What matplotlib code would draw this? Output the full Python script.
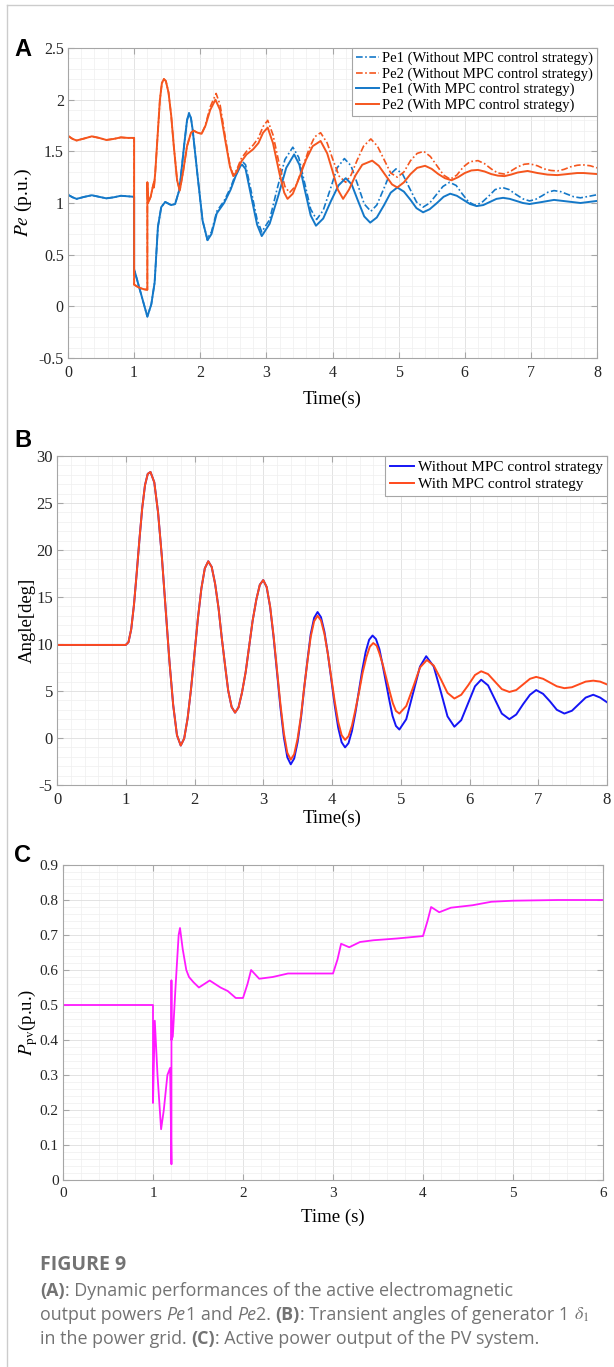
import matplotlib
matplotlib.use("Agg")
import matplotlib.pyplot as plt
from matplotlib.ticker import MultipleLocator, FormatStrFormatter
from matplotlib.lines import Line2D
from matplotlib.text import Annotation

plt.rcParams['font.family'] = ['Liberation Serif', 'DejaVu Serif']
plt.rcParams['mathtext.fontset'] = 'stix'
plt.rcParams['axes.unicode_minus'] = False

# ---------------- panel A : Pe1 / Pe2 ----------------
# common part (before the two runs split)
pe1_t = [0, 0.07, 0.13, 0.25, 0.36, 0.47, 0.58, 0.69, 0.8, 0.9, 1.0, 1.0, 1.2, 1.26, 1.31, 1.36, 1.41,
         1.47, 1.56, 1.62, 1.685, 1.76, 1.8, 1.83, 1.86, 1.885, 1.96, 2.035, 2.11]
pe1_v = [1.08, 1.055, 1.04, 1.06, 1.075, 1.06, 1.045, 1.055, 1.07, 1.065, 1.06, 0.36, -0.1, 0.02, 0.23,
         0.77, 0.96, 1.01, 0.98, 0.99, 1.13, 1.58, 1.8, 1.87, 1.82, 1.71, 1.26, 0.83, 0.64]

pe1_mpc_t = [2.11, 2.17, 2.25, 2.36, 2.46, 2.535, 2.61, 2.635, 2.685, 2.785, 2.86, 2.93,
             3.05, 3.18, 3.3, 3.42, 3.5, 3.58, 3.67, 3.75, 3.86, 3.97, 4.09, 4.2,
             4.29, 4.38, 4.48, 4.57, 4.67, 4.78, 4.88, 4.98, 5.08, 5.18, 5.27, 5.37,
             5.47, 5.58, 5.68, 5.78, 5.88, 5.98, 6.08, 6.18, 6.28, 6.38, 6.48, 6.58,
             6.68, 6.78, 6.88, 6.98, 7.17, 7.35, 7.55, 7.75, 8.0]
pe1_mpc_v = [0.64, 0.70, 0.90, 1.0, 1.13, 1.26, 1.36, 1.37, 1.33, 1.02, 0.79, 0.68,
             0.80, 1.07, 1.34, 1.47, 1.37, 1.13, 0.88, 0.78, 0.85, 1.01, 1.17, 1.24,
             1.18, 1.03, 0.87, 0.81, 0.86, 0.98, 1.10, 1.15, 1.11, 1.03, 0.95, 0.91,
             0.94, 1.00, 1.06, 1.09, 1.07, 1.03, 0.99, 0.97, 0.98, 1.01, 1.04, 1.05,
             1.04, 1.02, 1.00, 0.99, 1.01, 1.03, 1.015, 1.0, 1.02]

pe1_nompc_t = [2.11, 2.17, 2.25, 2.36, 2.46, 2.535, 2.61, 2.64, 2.685, 2.785, 2.86, 2.93,
               3.05, 3.16, 3.28, 3.4, 3.49, 3.58, 3.67, 3.76, 3.86, 3.97, 4.07, 4.18,
               4.28, 4.38, 4.48, 4.58, 4.67, 4.77, 4.86, 4.96, 5.06, 5.16, 5.27, 5.37,
               5.47, 5.57, 5.67, 5.77, 5.87, 5.96, 6.06, 6.15, 6.25, 6.36, 6.46, 6.57,
               6.67, 6.77, 6.88, 6.98, 7.07, 7.17, 7.26, 7.35, 7.45, 7.55, 7.65, 7.75,
               7.88, 8.0]
pe1_nompc_v = [0.66, 0.72, 0.92, 1.02, 1.15, 1.28, 1.39, 1.40, 1.37, 1.07, 0.84, 0.72,
               0.84, 1.13, 1.42, 1.54, 1.44, 1.19, 0.94, 0.84, 0.93, 1.14, 1.34, 1.43,
               1.36, 1.18, 0.99, 0.92, 0.98, 1.13, 1.27, 1.33, 1.28, 1.15, 1.01, 0.96,
               1.0, 1.08, 1.16, 1.2, 1.17, 1.09, 1.01, 0.98, 1.0, 1.065, 1.13, 1.15,
               1.13, 1.085, 1.04, 1.02, 1.035, 1.07, 1.105, 1.12, 1.11, 1.085, 1.06, 1.05,
               1.065, 1.08]

pe2_t = [0, 0.07, 0.13, 0.25, 0.36, 0.47, 0.58, 0.69, 0.8, 0.9, 1.0, 1.0, 1.05, 1.1, 1.15, 1.2, 1.2,
         1.21, 1.25, 1.28, 1.3, 1.3, 1.32, 1.36, 1.39, 1.42, 1.45, 1.48, 1.52, 1.56, 1.6, 1.65, 1.69,
         1.74, 1.8, 1.86, 1.9, 1.96, 2.02, 2.08]
pe2_v = [1.65, 1.62, 1.605, 1.625, 1.645, 1.63, 1.61, 1.62, 1.635, 1.63, 1.63, 0.21, 0.19, 0.175,
         0.165, 0.16, 1.2, 1.0, 1.06, 1.15, 1.2, 1.15, 1.3, 1.7, 2.0, 2.16, 2.2, 2.18, 2.07, 1.85,
         1.55, 1.22, 1.12, 1.3, 1.55, 1.68, 1.70, 1.68, 1.67, 1.75]

pe2_mpc_t = [2.08, 2.15, 2.23, 2.3, 2.38, 2.45, 2.5, 2.55, 2.62, 2.7, 2.8, 2.88, 2.95, 3.02,
             3.1, 3.2, 3.27, 3.32, 3.4, 3.5, 3.6, 3.7, 3.82, 3.92, 4.0, 4.08, 4.16,
             4.25, 4.35, 4.45, 4.6, 4.7, 4.8, 4.9, 4.98, 5.08, 5.18, 5.28, 5.4, 5.5,
             5.6, 5.7, 5.8, 5.9, 6.0, 6.1, 6.2, 6.3, 6.4, 6.5, 6.6, 6.7, 6.8, 6.95,
             7.1, 7.25, 7.4, 7.55, 7.7, 7.8, 7.9, 8.0]
pe2_mpc_v = [1.75, 1.9, 2.0, 1.9, 1.6, 1.35, 1.26, 1.3, 1.40, 1.47, 1.52, 1.58, 1.68, 1.73,
             1.58, 1.28, 1.1, 1.04, 1.09, 1.25, 1.42, 1.55, 1.6, 1.48, 1.31, 1.13, 1.04,
             1.13, 1.27, 1.37, 1.41, 1.36, 1.27, 1.18, 1.15, 1.2, 1.28, 1.34, 1.36, 1.33,
             1.28, 1.24, 1.22, 1.25, 1.29, 1.315, 1.32, 1.305, 1.28, 1.265, 1.26, 1.275, 1.295, 1.31,
             1.29, 1.275, 1.27, 1.28, 1.29, 1.29, 1.285, 1.28]

pe2_nompc_t = [2.08, 2.15, 2.24, 2.3, 2.38, 2.45, 2.5, 2.55, 2.62, 2.7, 2.8, 2.88, 2.95, 3.02,
               3.1, 3.2, 3.28, 3.35, 3.45, 3.55, 3.65, 3.73, 3.82, 3.92, 4.0, 4.1, 4.2,
               4.28, 4.37, 4.47, 4.58, 4.68, 4.78, 4.88, 4.98, 5.08, 5.18, 5.28, 5.38, 5.48,
               5.58, 5.68, 5.78, 5.88, 5.98, 6.08, 6.2, 6.3, 6.4, 6.5, 6.6, 6.7, 6.8, 6.9,
               6.98, 7.1, 7.2, 7.3, 7.4, 7.5, 7.6, 7.7, 7.78, 7.9, 8.0]
pe2_nompc_v = [1.76, 1.93, 2.06, 1.95, 1.63, 1.36, 1.27, 1.32, 1.43, 1.5, 1.56, 1.63, 1.74, 1.80,
               1.66, 1.36, 1.16, 1.10, 1.17, 1.35, 1.53, 1.64, 1.68, 1.58, 1.43, 1.26, 1.2,
               1.27, 1.41, 1.55, 1.62, 1.55, 1.42, 1.29, 1.25, 1.3, 1.41, 1.48, 1.5, 1.45,
               1.36, 1.27, 1.23, 1.27, 1.35, 1.4, 1.41, 1.38, 1.33, 1.29, 1.28, 1.31, 1.35, 1.375,
               1.38, 1.36, 1.33, 1.315, 1.31, 1.325, 1.35, 1.365, 1.37, 1.36, 1.34]

# ---------------- panel B : rotor angle ----------------
ang_t = [0, 1.0, 1.04, 1.08, 1.12, 1.16, 1.2, 1.24, 1.28, 1.32, 1.36, 1.415, 1.47, 1.525, 1.58,
         1.635, 1.69, 1.745, 1.8, 1.85, 1.9, 1.95, 2.0, 2.05, 2.1, 2.15, 2.2, 2.25, 2.3, 2.35,
         2.395, 2.445, 2.49, 2.54, 2.59, 2.64, 2.69, 2.745, 2.795, 2.845, 2.9, 2.95, 3.0]
ang_v = [9.9, 9.9, 10.2, 11.6, 14.2, 17.6, 21.2, 24.5, 26.9, 28.1, 28.3, 27.2, 24.0, 19.3, 13.75,
         8.2, 3.5, 0.3, -0.8, -0.05, 2.1, 5.25, 9.0, 12.75, 15.9, 18.05, 18.8, 18.2, 16.4, 13.8,
         10.75, 7.7, 5.05, 3.3, 2.7, 3.25, 4.8, 7.05, 9.75, 12.45, 14.75, 16.3, 16.8]

ang_nompc_t = [3.0, 3.05, 3.1, 3.15, 3.2, 3.25, 3.3, 3.35, 3.4, 3.45, 3.5, 3.55, 3.595, 3.645,
               3.69, 3.74, 3.79, 3.84, 3.89, 3.94, 3.99, 4.04, 4.09, 4.14, 4.19, 4.24, 4.29,
               4.34, 4.39, 4.44, 4.49, 4.54, 4.59, 4.64, 4.69, 4.735, 4.785, 4.835, 4.88, 4.93,
               4.98, 5.08, 5.18, 5.28, 5.37, 5.48, 5.58, 5.68,
               5.78, 5.88, 5.98, 6.08, 6.17, 6.27, 6.37, 6.47, 6.58, 6.68, 6.78, 6.88, 6.97,
               7.07, 7.17, 7.27, 7.38, 7.49, 7.59, 7.69, 7.8, 7.9, 8.0]
ang_nompc_v = [16.8, 16.05, 13.93, 10.75, 7.0, 3.25, 0.07, -2.05, -2.8, -2.18, -0.43, 2.2, 5.3, 8.4,
               11.03, 12.78, 13.4, 12.85, 11.3, 8.95, 6.2, 3.45, 1.1, -0.45, -1.0, -0.55, 0.74,
               2.67, 4.95, 7.23, 9.16, 10.45, 10.9, 10.52, 9.44, 7.82, 5.9, 3.98, 2.36, 1.28,
               0.9, 2.0, 4.8, 7.6, 8.7, 7.6, 5.0, 2.3,
               1.2, 1.9, 3.7, 5.5, 6.2, 5.6, 4.1, 2.6, 2.0, 2.5, 3.6, 4.6, 5.1,
               4.7, 3.9, 3.0, 2.6, 2.9, 3.6, 4.3, 4.6, 4.3, 3.8]

ang_mpc_t = [3.0, 3.05, 3.1, 3.15, 3.2, 3.25, 3.3, 3.35, 3.4, 3.45, 3.5, 3.55, 3.595, 3.645,
             3.69, 3.74, 3.79, 3.84, 3.89, 3.94, 3.99, 4.04, 4.09, 4.14, 4.19, 4.24, 4.29,
             4.34, 4.395, 4.445, 4.5, 4.55, 4.6, 4.65, 4.69, 4.74, 4.79, 4.84, 4.885, 4.93,
             4.98, 5.08, 5.18, 5.28, 5.38, 5.48, 5.58, 5.68,
             5.78, 5.88, 5.98, 6.08, 6.17, 6.27, 6.37, 6.47, 6.58, 6.68, 6.78, 6.88, 6.97,
             7.07, 7.17, 7.27, 7.38, 7.49, 7.59, 7.69, 7.8, 7.9, 8.0]
ang_mpc_v = [16.8, 16.07, 14.0, 10.9, 7.25, 3.6, 0.5, -1.57, -2.3, -1.72, -0.06, 2.42, 5.35, 8.28,
             10.76, 12.42, 13.0, 12.5, 11.07, 8.93, 6.4, 3.87, 1.73, 0.3, -0.2, 0.19, 1.31,
             2.98, 4.95, 6.92, 8.59, 9.71, 10.1, 9.82, 9.0, 7.79, 6.35, 4.91, 3.7, 2.88,
             2.6, 3.4, 5.4, 7.5, 8.3, 7.7, 6.3, 4.8,
             4.2, 4.6, 5.6, 6.7, 7.1, 6.8, 6.0, 5.2, 4.9, 5.1, 5.7, 6.3, 6.5,
             6.3, 5.9, 5.5, 5.3, 5.4, 5.7, 6.0, 6.1, 6.0, 5.7]

# ---------------- panel C : PV output ----------------
pv_t = [0, 1.0, 1.0, 1.02, 1.05, 1.09, 1.12, 1.16, 1.19, 1.205, 1.205, 1.205, 1.22, 1.25, 1.285,
        1.3, 1.33, 1.37, 1.4, 1.45, 1.51, 1.57, 1.63, 1.69, 1.75, 1.83, 1.92, 2.0, 2.05,
        2.09, 2.18, 2.33, 2.5, 3.0, 3.05, 3.09, 3.18, 3.3, 3.45, 3.71, 4.0, 4.05, 4.09,
        4.18, 4.31, 4.55, 4.76, 5.0, 5.5, 6.0]
pv_v = [0.5, 0.5, 0.22, 0.455, 0.3, 0.145, 0.2, 0.3, 0.32, 0.045, 0.57, 0.4, 0.41, 0.55, 0.70,
        0.72, 0.66, 0.6, 0.58, 0.565, 0.55, 0.56, 0.57, 0.56, 0.55, 0.54, 0.52, 0.52, 0.56,
        0.6, 0.575, 0.58, 0.59, 0.59, 0.63, 0.675, 0.665, 0.68, 0.685, 0.69, 0.697, 0.74, 0.78,
        0.765, 0.778, 0.785, 0.795, 0.798, 0.8, 0.8]

blue_a = '#1478C8'
red_a = '#F5561E'
blue_b = '#1515F5'
red_b = '#FF4A1C'
mag = '#FF1AFF'
W, H = 614, 1367


def style_axes(ax, xmaj, ymaj, xmin, ymin, fs):
    ax.xaxis.set_major_locator(MultipleLocator(xmaj))
    ax.yaxis.set_major_locator(MultipleLocator(ymaj))
    ax.xaxis.set_minor_locator(MultipleLocator(xmin))
    ax.yaxis.set_minor_locator(MultipleLocator(ymin))
    ax.xaxis.set_major_formatter(FormatStrFormatter('%g'))
    ax.yaxis.set_major_formatter(FormatStrFormatter('%g'))
    ax.grid(True, which='major', color='#dedede', lw=0.6)
    ax.grid(True, which='minor', color='#efefef', lw=0.5)
    ax.set_axisbelow(True)
    for s in ax.spines.values():
        s.set_color('#a6a6a6')
        s.set_linewidth(0.8)
    ax.tick_params(which='both', direction='in', top=True, right=True, color='#a6a6a6',
                   labelsize=fs, labelcolor='#262626', pad=3)
    ax.tick_params(axis='x', pad=5)
    ax.tick_params(which='major', length=4)
    ax.tick_params(which='minor', length=0)


def box(l, t, r, b):
    return [l / W, 1 - b / H, (r - l) / W, (b - t) / H]


fig = plt.figure(figsize=(W / 100, H / 100), dpi=100)

# outer frame of the figure page
fig.add_artist(Line2D([7 / W, 7 / W], [0, 1 - 5 / H], color='#cccccc', lw=1))
fig.add_artist(Line2D([7 / W, 1], [1 - 5 / H, 1 - 5 / H], color='#cccccc', lw=1))

# ---- A ----
ax1 = fig.add_axes(box(68, 48, 597, 358))
dd = (0, (4, 1.5, 1, 1.5))
ax1.plot(pe1_t + pe1_nompc_t, pe1_v + pe1_nompc_v, color=blue_a, lw=1.2, ls=dd,
         label='Pe1 (Without MPC control strategy)')
ax1.plot(pe2_t + pe2_nompc_t, pe2_v + pe2_nompc_v, color=red_a, lw=1.2, ls=dd,
         label='Pe2 (Without MPC control strategy)')
ax1.plot(pe1_t + pe1_mpc_t, pe1_v + pe1_mpc_v, color=blue_a, lw=1.4,
         label='Pe1 (With MPC control strategy)')
ax1.plot(pe2_t + pe2_mpc_t, pe2_v + pe2_mpc_v, color=red_a, lw=1.4,
         label='Pe2 (With MPC control strategy)')
ax1.set_xlim(0, 8)
ax1.set_ylim(-0.5, 2.5)
style_axes(ax1, 1, 0.5, 0.2, 0.1, 11.5)
ax1.set_xlabel('Time(s)', fontsize=13.5, labelpad=7)
ax1.set_ylabel('$Pe$ (p.u.)', fontsize=14, labelpad=3)
leg = ax1.legend(loc='upper right', fontsize=10.5, borderaxespad=0, fancybox=False,
                 edgecolor='#a6a6a6', framealpha=1, handlelength=1.6, handletextpad=0.2,
                 borderpad=0.25, labelspacing=0.15)
leg.get_frame().set_linewidth(0.8)

# ---- B ----
ax2 = fig.add_axes(box(57, 456, 607, 785))
ax2.plot(ang_t + ang_nompc_t[1:], ang_v + ang_nompc_v[1:], color=blue_b, lw=1.4,
         label='Without MPC control strategy')
ax2.plot(ang_t + ang_mpc_t[1:], ang_v + ang_mpc_v[1:], color=red_b, lw=1.4,
         label='With MPC control strategy')
ax2.set_xlim(0, 8)
ax2.set_ylim(-5, 30)
style_axes(ax2, 1, 5, 0.2, 1, 12)
ax2.set_xlabel('Time(s)', fontsize=13.5, labelpad=1)
ax2.set_ylabel('Angle[deg]', fontsize=13.5, labelpad=0)
leg = ax2.legend(loc='upper right', fontsize=11, borderaxespad=0, fancybox=False,
                 edgecolor='#a6a6a6', framealpha=1, handlelength=1.6, handletextpad=0.2,
                 borderpad=0.3, labelspacing=0.2)
leg.get_frame().set_linewidth(0.8)

# ---- C ----
ax3 = fig.add_axes(box(63, 865, 603, 1180))
ax3.plot(pv_t, pv_v, color=mag, lw=1.3)
ax3.set_xlim(0, 6)
ax3.set_ylim(0, 0.9)
style_axes(ax3, 1, 0.1, 0.2, 0.02, 11)
ax3.set_xlabel('Time (s)', fontsize=13.5, labelpad=6)
ax3.set_ylabel(r'$P_{\rm pv}$(p.u.)', fontsize=13.5, labelpad=0)

# panel letters
for lab, y in [('A', 50), ('B', 440), ('C', 855)]:
    fig.text(14 / W, 1 - y / H, lab, fontsize=17, fontweight='bold', family='Liberation Sans',
             va='center', ha='left')

# caption
cap = dict(family='Open Sans', color='#737373')
fig.text(40 / W, 1 - 1265 / H, 'FIGURE 9', fontsize=14, fontweight='bold', va='center', **cap)


def rich(parts, x, y, fs=12.9):
    # pieces of one caption line, each placed right after the previous one
    cur = None
    for s, w, st in parts:
        kw = dict(fontsize=fs, fontweight=w, fontstyle=st, **cap)
        if cur is None:
            cur = fig.text(x / W, 1 - y / H, s, va='baseline', **kw)
        else:
            cur = fig.add_artist(Annotation(s, xy=(1, 0), xycoords=cur, va='bottom', ha='left',
                                            annotation_clip=False, **kw))
    return cur


rich([('(A)', 'bold', 'normal'), (': Dynamic performances of the active electromagnetic', 'normal', 'normal')],
     40, 1296)
rich([('output powers ', 'normal', 'normal'), ('Pe', 'normal', 'italic'), ('1 and ', 'normal', 'normal'),
      ('Pe', 'normal', 'italic'), ('2. ', 'normal', 'normal'), ('(B)', 'bold', 'normal'),
      (': Transient angles of generator 1 ', 'normal', 'normal'), (r'$\delta_1$', 'normal', 'normal')],
     40, 1320)
rich([('in the power grid. ', 'normal', 'normal'), ('(C)', 'bold', 'normal'),
      (': Active power output of the PV system.', 'normal', 'normal')], 40, 1344)

fig.savefig('out.png', dpi=100)
